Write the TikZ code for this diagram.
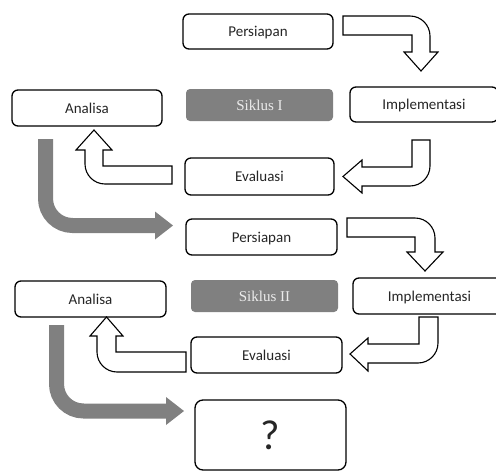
\documentclass[tikz,border=0pt]{standalone}
\usepackage{fontspec}
\setmainfont{Carlito}
\newfontfamily\siklusfont{Liberation Serif}
\definecolor{sgray}{RGB}{128,128,128}
\begin{document}
\begin{tikzpicture}[x=1pt,y=-1pt,
  box/.style={draw=black, line width=1.3pt, rounded corners=6pt, fill=white,
    text=black!85, font=\fontsize{15}{18}\selectfont, inner sep=0pt,
    text height=10.5pt, text depth=0pt},
  siklus/.style={fill=sgray, rounded corners=4pt, text=white!92!black,
    font=\siklusfont\fontsize{15}{18}\selectfont, inner sep=0pt,
    text height=10.5pt, text depth=0pt},
  barrow/.style={draw=black, line width=1.1pt, fill=white},
  garrow/.style={draw=sgray, line width=15pt, rounded corners=27pt},
  ghead/.style={fill=sgray}]
\clip (0,0) rectangle (496,472);

% Siklus I
\node[box, minimum width=150pt, minimum height=35pt, yshift=-2pt] (p1) at (258,29.5) {Persiapan};
\node[box, minimum width=150pt, minimum height=36pt, yshift=-2pt] (a1) at (87,106) {Analisa};
\node[siklus, minimum width=147pt, minimum height=32pt, yshift=-2pt] (s1) at (259.5,103) {Siklus I};
\node[box, minimum width=148pt, minimum height=35pt, yshift=-2pt] (i1) at (424,102.5) {Implementasi};
\node[box, minimum width=149pt, minimum height=37pt, yshift=-2pt] (e1) at (259.5,174.5) {Evaluasi};

% Siklus II
\node[box, minimum width=151pt, minimum height=36pt, yshift=-2pt] (p2) at (261.5,235) {Persiapan};
\node[box, minimum width=151pt, minimum height=36pt, yshift=-2pt] (a2) at (90.5,297) {Analisa};
\node[siklus, minimum width=147pt, minimum height=32pt, yshift=-2pt] (s2) at (264.5,294) {Siklus II};
\node[box, minimum width=153pt, minimum height=36pt, yshift=-2pt] (i2) at (429.5,294) {Implementasi};
\node[box, minimum width=151pt, minimum height=36pt, yshift=-2pt] (e2) at (266.5,353) {Evaluasi};

% Question box
\node[draw=black, line width=1.3pt, rounded corners=8pt, fill=white, text=black!85,
  font=\fontsize{42}{48}\selectfont, inner sep=0pt,
  minimum width=151pt, minimum height=70pt] (q) at (270.5,435) {\raisebox{-2.5pt}{?}};

% block arrows, cycle I
\filldraw[barrow] (343,16) -- (410,16) .. controls (421,16) and (430,25) .. (430,36)
  -- (430,52) -- (438,52) -- (421,71) -- (404,52) -- (412,52) -- (412,35) -- (343,35) -- cycle;
\filldraw[barrow] (412,140) -- (430,140) -- (430,166) .. controls (430,177) and (421,186) .. (410,186)
  -- (362,186) -- (362,193) -- (343,176.5) -- (362,160) -- (362,167) -- (412,167) -- cycle;
\filldraw[barrow] (172,166) -- (172,184) -- (105,184) .. controls (94,184) and (85,175) .. (85,164)
  -- (85,150) -- (76,150) -- (94,130) -- (112,150) -- (103,150) -- (103,166) -- cycle;

% block arrows, cycle II
\filldraw[barrow] (347,218) -- (415,218) .. controls (426,218) and (435,227) .. (435,238)
  -- (435,252) -- (443,252) -- (425,271) -- (407,252) -- (415,252) -- (415,237) -- (347,237) -- cycle;
\filldraw[barrow] (419,317) -- (438,317) -- (438,343) .. controls (438,354) and (429,363) .. (418,363)
  -- (368,363) -- (368,371) -- (350,354) -- (368,338) -- (368,344) -- (419,344) -- cycle;
\filldraw[barrow] (186,352) -- (186,372) -- (117,372) .. controls (106,372) and (97,363) .. (97,352)
  -- (97,336) -- (90,336) -- (106.5,317) -- (123,336) -- (116,336) -- (116,352) -- cycle;

% gray transition arrows
\draw[garrow] (45.5,139) |- (157,225.5);
\fill[ghead] (155,211.5) -- (173,225.5) -- (155,239.5) -- cycle;
\draw[garrow] (56.5,325) |- (168,411);
\fill[ghead] (166,397) -- (184,411) -- (166,425) -- cycle;
\end{tikzpicture}
\end{document}
